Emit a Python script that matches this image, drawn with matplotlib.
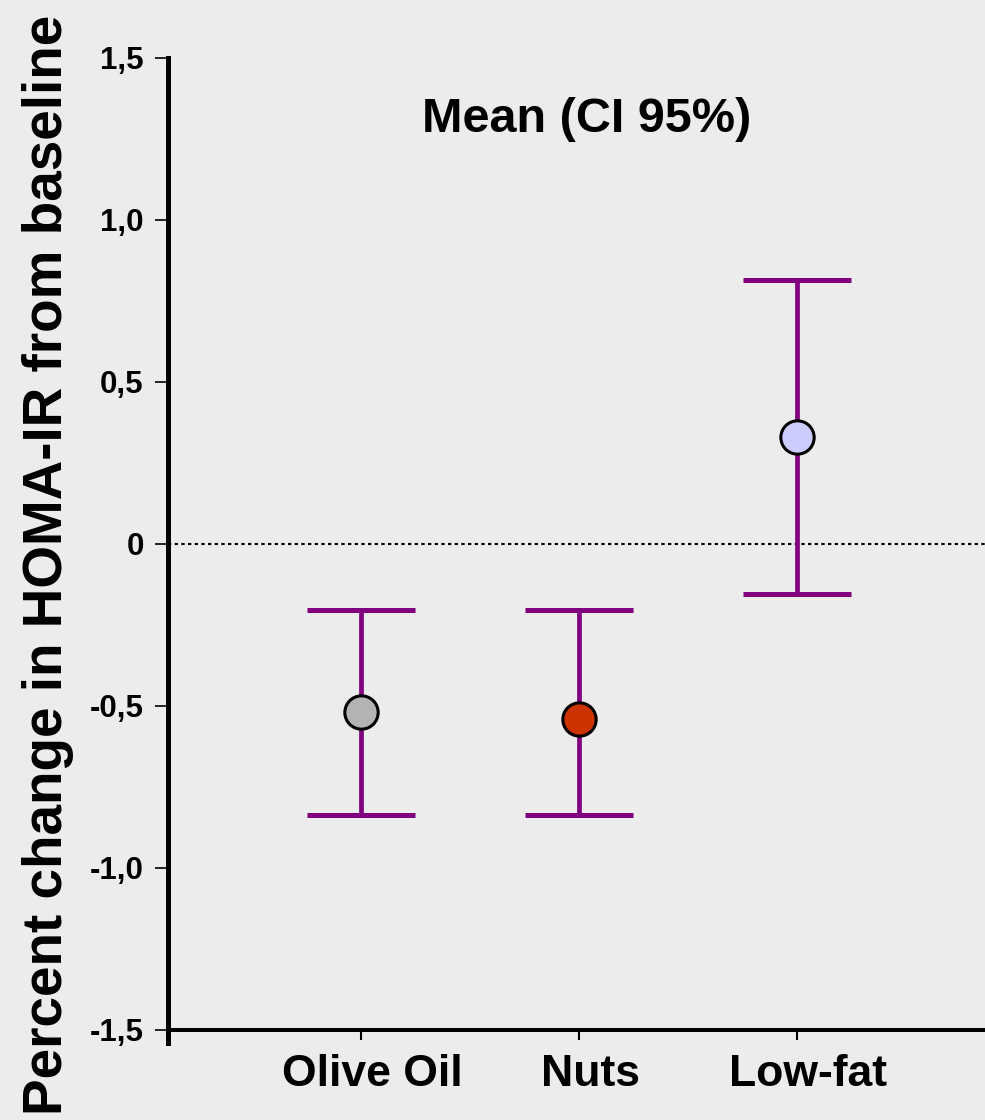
import matplotlib
matplotlib.use("Agg")
import matplotlib.pyplot as plt
from matplotlib.transforms import ScaledTranslation

# data
groups = ["Olive Oil", "Nuts", "Low-fat"]
means = [-0.52, -0.54, 0.33]
ci_low = [-0.835, -0.835, -0.155]
ci_high = [-0.205, -0.205, 0.815]
marker_colors = ["#b3b3b3", "#cc3300", "#ccccff"]

ytick_vals = [-1.5, -1.0, -0.5, 0, 0.5, 1.0, 1.5]
ytick_labels = ["-1,5", "-1,0", "-0,5", "0", "0,5", "1,0", "1,5"]

bg = "#ececec"
purple = "#800080"

plt.rcParams["font.family"] = ["Liberation Sans", "DejaVu Sans"]
plt.rcParams["font.weight"] = "bold"

fig = plt.figure(figsize=(9.85, 11.2), dpi=100, facecolor=bg)
ax = fig.add_axes([0.1706, 0.0688, 0.8294, 0.8852])
ax.set_facecolor(bg)

x = list(range(len(groups)))

# zero reference line
ax.axhline(0, color="black", lw=1.5, linestyle=(0, (1.6, 1.6)), zorder=1)

for i in x:
    lo = means[i] - ci_low[i]
    hi = ci_high[i] - means[i]
    ax.errorbar(i, means[i], yerr=[[lo], [hi]], fmt="none", ecolor=purple,
                elinewidth=3.4, capsize=39, capthick=3.6, zorder=2)
    ax.plot(i, means[i], "o", ms=24, mfc=marker_colors[i], mec="black",
            mew=2.2, zorder=3)

ax.set_xlim(-0.887, 2.865)
ax.set_ylim(-1.54, 1.52)

ax.spines["top"].set_visible(False)
ax.spines["right"].set_visible(False)
ax.spines["left"].set_linewidth(3.6)
ax.spines["left"].set_bounds(-1.54, 1.5)
ax.spines["bottom"].set_linewidth(2.9)
ax.spines["bottom"].set_position(("data", -1.5))

ax.set_yticks(ytick_vals)
ax.set_yticklabels(ytick_labels, fontsize=22.5, fontweight="bold")
ax.tick_params(axis="y", length=9.5, width=1.2, pad=8, direction="out")

ax.set_xticks(x)
ax.set_xticklabels(groups, fontsize=32, fontweight="bold")
ax.tick_params(axis="x", length=7, width=1.5, pad=10, direction="out")
shift = ScaledTranslation(8 / 72, 0, fig.dpi_scale_trans)
for lab in ax.get_xticklabels():
    lab.set_transform(lab.get_transform() + shift)

ax.text(1.037, 1.31, "Mean (CI 95%)", ha="center", va="center",
        fontsize=35, fontweight="bold")

fig.text(0.063, 0.4955, "Percent change in HOMA-IR from baseline",
         rotation=90, rotation_mode="anchor", ha="center", va="baseline",
         fontsize=39.5, fontweight="bold")

fig.savefig("out.png", dpi=100, facecolor=bg)
